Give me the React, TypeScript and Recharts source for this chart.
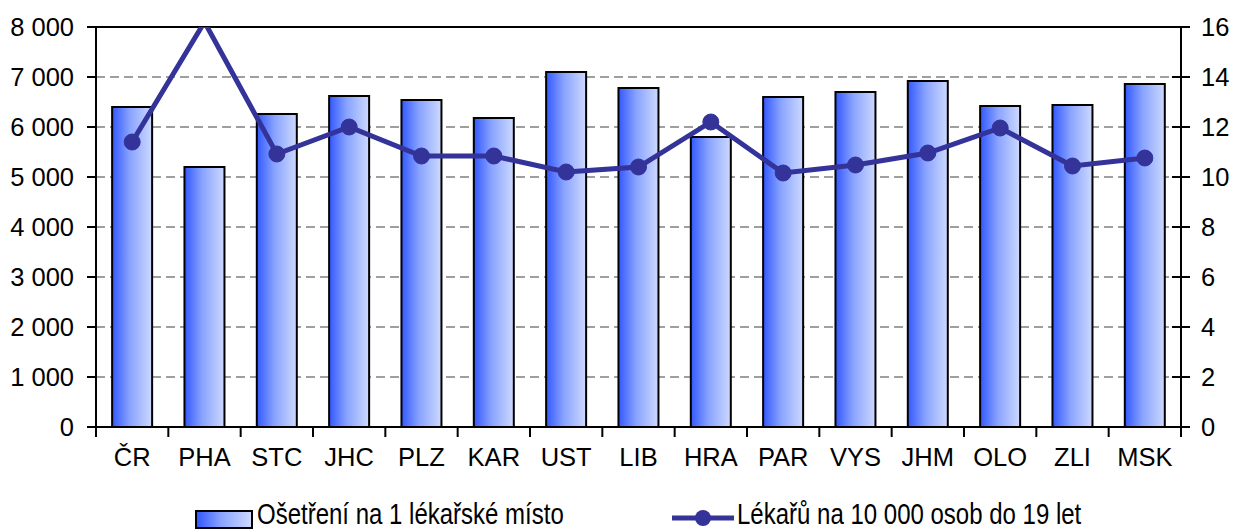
import React from 'react';
import {
  ComposedChart,
  Bar,
  Line,
  XAxis,
  YAxis,
  CartesianGrid,
  ReferenceLine,
  Legend
} from 'recharts';

// kraje
const regions = ['ČR', 'PHA', 'STC', 'JHC', 'PLZ', 'KAR', 'UST', 'LIB', 'HRA', 'PAR', 'VYS', 'JHM', 'OLO', 'ZLI', 'MSK'];
// ošetření na 1 lékařské místo
const treatments = [6400, 5200, 6260, 6620, 6540, 6180, 7100, 6780, 5800, 6600, 6700, 6920, 6420, 6440, 6860];
// lékařů na 10 000 osob do 19 let
const doctors = [11.4, 16.2, 10.92, 12.0, 10.84, 10.84, 10.2, 10.4, 12.2, 10.16, 10.48, 10.96, 11.96, 10.44, 10.76];

const leftTicks = [0, 1000, 2000, 3000, 4000, 5000, 6000, 7000, 8000];
const rightTicks = [0, 2, 4, 6, 8, 10, 12, 14, 16];

const barName = 'Ošetření na 1 lékařské místo';
const lineName = 'Lékařů na 10 000 osob do 19 let';

const data = regions.map((r, i) => ({ region: r, treatments: treatments[i], doctors: doctors[i] }));

const W = 1234;
const H = 532;
const PLOT_LEFT = 96;
const PLOT_RIGHT = 1181;
const BAND = (PLOT_RIGHT - PLOT_LEFT) / regions.length;
const FONT = '"Liberation Sans", Arial, sans-serif';
const FS = 25.5;
const NAVY = '#333399';

const fmt = (v: number) => v.toLocaleString('en-US').replace(/,/g, '\u00a0');

const CategoryTick = (props: any) => {
  const { x, y, payload, index } = props;
  const last = index === regions.length - 1;
  return (
    <g>
      <line x1={x - BAND / 2} x2={x - BAND / 2} y1={y - 8} y2={y + 2} stroke="#000" strokeWidth={2} />
      {last && <line x1={x + BAND / 2} x2={x + BAND / 2} y1={y - 8} y2={y + 2} stroke="#000" strokeWidth={2} />}
      <text x={x} y={y + 31} textAnchor="middle" fontSize={FS} fontFamily={FONT} fill="#000">
        {payload.value}
      </text>
    </g>
  );
};

const LeftTick = (props: any) => {
  const { y, payload } = props;
  return (
    <g>
      <line x1={PLOT_LEFT - 9} x2={PLOT_LEFT} y1={y} y2={y} stroke="#000" strokeWidth={2} />
      <text x={PLOT_LEFT - 22} y={y + 9} textAnchor="end" fontSize={FS} fontFamily={FONT} fill="#000">
        {fmt(payload.value)}
      </text>
    </g>
  );
};

const RightTick = (props: any) => {
  const { y, payload } = props;
  return (
    <g>
      <line x1={PLOT_RIGHT - 9} x2={PLOT_RIGHT + 9} y1={y} y2={y} stroke="#000" strokeWidth={2} />
      <text x={PLOT_RIGHT + 20} y={y + 9} textAnchor="start" fontSize={FS} fontFamily={FONT} fill="#000">
        {payload.value}
      </text>
    </g>
  );
};

const LineDot = (props: any) => {
  const { cx, cy, value, index } = props;
  if (value > 16) return <g key={`d-${index}`} />;
  return <circle key={`d-${index}`} cx={cx} cy={cy} r={8} fill={NAVY} stroke={NAVY} />;
};

const legendText: React.CSSProperties = {
  position: 'absolute',
  top: 3,
  whiteSpace: 'nowrap',
  lineHeight: '28px',
  fontSize: 30,
  transform: 'scaleX(0.8)',
  transformOrigin: 'left center'
};

const LegendContent = () => (
  <div style={{ position: 'relative', width: W, height: 31, fontFamily: FONT, color: '#000' }}>
    <div style={{ position: 'absolute', left: 195, top: 13, width: 54, height: 15, border: '2px solid #000', background: 'linear-gradient(to right, #3358ff 0%, #8aa4ff 45%, #cdd9ff 100%)' }} />
    <div style={{ ...legendText, left: 257 }}>{barName}</div>
    <svg style={{ position: 'absolute', left: 670, top: 9 }} width={66} height={24}>
      <line x1={2} x2={64} y1={12} y2={12} stroke={NAVY} strokeWidth={5} />
      <circle cx={33} cy={12} r={8} fill={NAVY} />
    </svg>
    <div style={{ ...legendText, left: 737 }}>{lineName}</div>
  </div>
);

export default function App() {
  return (
    <div style={{ position: 'absolute', left: 0, top: 0, width: W, height: H, background: '#fff', overflow: 'hidden' }}>
      <ComposedChart
        width={W}
        height={H}
        data={data}
        margin={{ top: 27, right: 0, left: 0, bottom: 60 }}
        barCategoryGap="22.3%"
      >
        <defs>
          <linearGradient id="barGrad" x1="0" y1="0" x2="1" y2="0">
            <stop offset="0%" stopColor="#3358ff" />
            <stop offset="45%" stopColor="#8aa4ff" />
            <stop offset="100%" stopColor="#cdd9ff" />
          </linearGradient>
        </defs>
        <CartesianGrid yAxisId="left" vertical={false} stroke="#808080" strokeWidth={1.5} strokeDasharray="9 5" />
        <XAxis
          dataKey="region"
          height={45}
          interval={0}
          axisLine={{ stroke: '#000', strokeWidth: 2 }}
          tickLine={false}
          tick={<CategoryTick />}
        />
        <YAxis
          yAxisId="left"
          width={PLOT_LEFT}
          domain={[0, 8000]}
          ticks={leftTicks}
          axisLine={{ stroke: '#000', strokeWidth: 2 }}
          tickLine={false}
          tick={<LeftTick />}
        />
        <YAxis
          yAxisId="right"
          orientation="right"
          width={W - PLOT_RIGHT}
          domain={[0, 16]}
          allowDataOverflow
          ticks={rightTicks}
          axisLine={{ stroke: '#000', strokeWidth: 2 }}
          tickLine={false}
          tick={<RightTick />}
        />
        <ReferenceLine yAxisId="left" y={8000} stroke="#000" strokeWidth={2} />
        <Bar
          yAxisId="left"
          dataKey="treatments"
          name={barName}
          fill="url(#barGrad)"
          stroke="#000"
          strokeWidth={2}
          isAnimationActive={false}
        />
        <Line
          yAxisId="right"
          dataKey="doctors"
          name={lineName}
          type="linear"
          stroke={NAVY}
          strokeWidth={5}
          dot={<LineDot />}
          activeDot={false}
          isAnimationActive={false}
        />
        <Legend
          layout="horizontal"
          verticalAlign="middle"
          align="center"
          content={<LegendContent />}
          wrapperStyle={{ top: 497, left: 0, width: W }}
        />
      </ComposedChart>
    </div>
  );
}
